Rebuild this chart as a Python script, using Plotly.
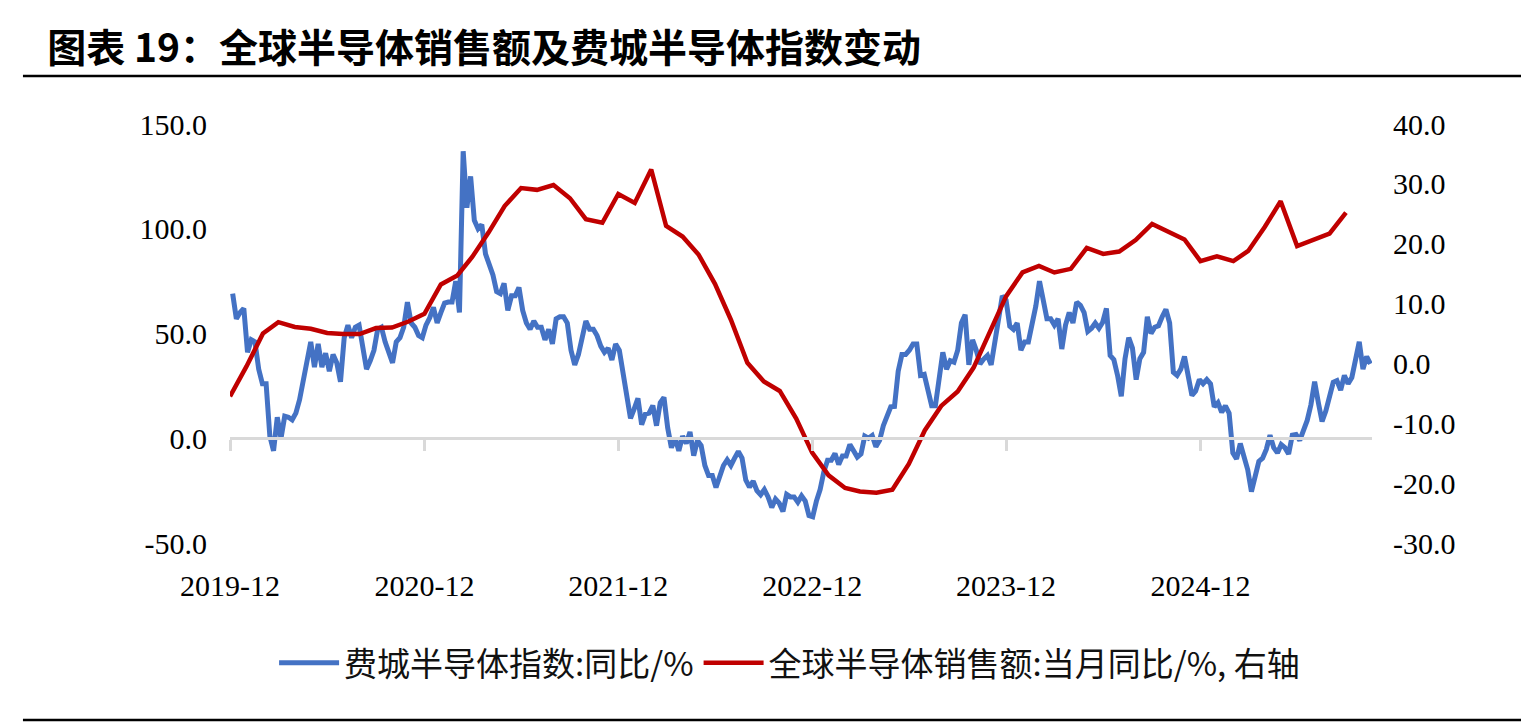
import pandas as pd
import plotly.graph_objects as go

# ---- data ----
sox_start = "2019-12-06"  # weekly observations
sox_yoy = [
    69, 57, 60, 62, 41, 47, 46, 33, 26, 26,
    1, -6, 10, 0, 10.5, 10, 8.8, 12, 18.4, 27,
    37, 46, 34, 45, 34, 40.6, 32, 40, 36, 27,
    48, 54, 48, 53, 54, 45, 33, 37, 42, 52,
    53, 46, 40.6, 36, 46, 48, 53, 65, 55, 53,
    49, 48, 54, 57.5, 62.5, 55, 60, 64.5, 65, 65,
    75, 60, 137, 110, 125, 104, 100, 102, 88, 83,
    78, 70, 69, 74, 61, 68, 68, 72, 61, 55,
    52, 56, 53, 53, 47, 52, 45, 57, 58, 58,
    55, 42, 35, 40, 47, 56, 52, 52, 49, 44,
    41, 43, 37.4, 45, 42, 30, 22, 9.5, 14, 19,
    6.5, 11.5, 12, 15.6, 6, 17, 19.5, 5, -4.5, 0,
    -6, 1, -2.5, 3, -8.3, -1.1, -3.5, -13, -17.8, -17.8,
    -23.5, -18.5, -13, -10.3, -13, -9.5, -6.3, -9.5, -19.9, -23.3,
    -20.5, -25, -27, -24.5, -28, -33, -29, -31, -35, -26.8,
    -28, -28, -30.5, -27.5, -30, -36.9, -37.5, -30, -24.5, -16,
    -10.5, -10.5, -7.3, -12.5, -8.5, -8.5, -3, -6, -9, -7.5,
    1, 0, 1.3, -4, -1, 6, 10.5, 15, 15.2, 32,
    40, 40, 42, 45, 45, 30, 30.5, 24, 15.5, 15.5,
    28.3, 41, 33, 37, 36.3, 42, 55, 59, 35, 47,
    42, 35.5, 37.8, 39.5, 35, 45, 57.6, 68, 66, 53.5,
    52, 55, 42, 46, 46, 53.8, 63, 75, 66, 57,
    57, 54, 57, 42.6, 54, 60, 55, 65, 63.5, 60,
    51, 52.5, 55, 52.5, 55.4, 62, 39.5, 37.5, 30, 20,
    37.9, 48, 43, 28, 38, 41, 58, 50, 53, 53.7,
    58, 61.5, 55, 31.5, 30, 33, 39, 29, 20.4, 22.5,
    28, 26, 28, 26, 15, 17, 12.4, 15.5, 12, -7,
    -9.9, -2.5, -9, -15, -25.5, -17, -11, -9.5, -5.3, 1.5,
    -4.5, -7, -3, -4.5, -7.5, 1.5, 1.8, -1, 4.5, 8.5,
    16, 27, 17, 8, 13, 21, 26.7, 27.5, 23, 30,
    26, 29, 36.3, 46, 33, 39, 35.5,
]

sales_start = "2019-12-01"  # monthly observations
sales_yoy = [
    -5.5,
    -0.5, 5.0, 6.9, 6.1, 5.8, 5.1, 4.9, 4.9, 5.9, 6.0, 7.0, 8.3,
    13.2, 14.7, 17.8, 21.9, 26.3, 29.3, 29.0, 29.8, 27.6, 24.1, 23.5, 28.3,
    26.8, 32.4, 23.0, 21.2, 18.2, 13.3, 7.3, 0.1, -3.0, -4.6, -9.2, -14.9,
    -18.7, -20.8, -21.4, -21.6, -21.1, -16.8, -11.2, -7.1, -4.7, -0.7, 5.2, 11.2,
    15.2, 16.3, 15.2, 15.8, 19.3, 18.3, 18.7, 20.6, 23.3, 22.1, 20.7, 17.1,
    17.9, 17.1, 18.8, 22.8, 27.1, 19.6, 20.7, 21.7, 25.2,
]

x_tick_vals = ["2019-12-01", "2020-12-01", "2021-12-01", "2022-12-01", "2023-12-01", "2024-12-01"]
x_tick_text = ["2019-12", "2020-12", "2021-12", "2022-12", "2023-12", "2024-12"]
left_tick_vals = [-50, 0, 50, 100, 150]
left_tick_text = ["-50.0", "0.0", "50.0", "100.0", "150.0"]
right_tick_vals = [-30, -20, -10, 0, 10, 20, 30, 40]
right_tick_text = ["-30.0", "-20.0", "-10.0", "0.0", "10.0", "20.0", "30.0", "40.0"]

name_sox = "费城半导体指数:同比/%"
name_sales = "全球半导体销售额:当月同比/%, 右轴"
title_text = "图表 19：全球半导体销售额及费城半导体指数变动"

sox_dates = pd.date_range(sox_start, periods=len(sox_yoy), freq="7D")
sales_dates = pd.date_range(sales_start, periods=len(sales_yoy), freq="MS")

BLUE = "#4472C4"
RED = "#C00000"
GREY = "#D9D9D9"
SERIF = "Liberation Serif, Times New Roman, serif"
CJK = "Noto Sans CJK SC, sans-serif"

fig = go.Figure()
fig.add_trace(go.Scatter(x=sox_dates, y=sox_yoy, name=name_sox, mode="lines",
                         line=dict(color=BLUE, width=5), xaxis="x", yaxis="y"))
fig.add_trace(go.Scatter(x=sales_dates, y=sales_yoy, name=name_sales, mode="lines",
                         line=dict(color=RED, width=4.5), xaxis="x", yaxis="y2"))

x_range = ["2019-12-01", "2025-10-20"]

fig.update_layout(
    width=1521, height=723,
    margin=dict(l=230, r=149, t=124, b=180),
    paper_bgcolor="white", plot_bgcolor="white",
    showlegend=True,
    legend=dict(orientation="h", x=0.49, xanchor="center", y=-0.286, yanchor="middle",
                font=dict(family=CJK, size=33, color="#111111"),
                itemwidth=60, tracegroupgap=0, bgcolor="rgba(0,0,0,0)"),
    title=dict(text="<b>" + title_text + "</b>", xref="container", yref="container",
               x=0.031, xanchor="left", y=1 - 48 / 723, yanchor="middle",
               font=dict(family=CJK, size=39, color="black")),
    xaxis=dict(range=x_range, type="date", tickvals=x_tick_vals, ticktext=x_tick_text,
               showline=False, showgrid=False, zeroline=False, ticks="",
               tickfont=dict(family=SERIF, size=30, color="black"),
               ticklabelstandoff=22),
    xaxis2=dict(range=x_range, type="date", overlaying="x", anchor="free", position=0.25,
                tickvals=x_tick_vals, showticklabels=False, showgrid=False, zeroline=False,
                showline=True, linecolor=GREY, linewidth=2.5,
                ticks="outside", ticklen=11, tickwidth=2.5, tickcolor=GREY),
    yaxis=dict(range=[-50, 150], tickvals=left_tick_vals, ticktext=left_tick_text,
               showgrid=False, zeroline=False, showline=False, ticks="",
               tickfont=dict(family=SERIF, size=30, color="black"),
               ticklabelstandoff=22),
    yaxis2=dict(range=[-30, 40], tickvals=right_tick_vals, ticktext=right_tick_text,
                overlaying="y", side="right", anchor="x",
                showgrid=False, zeroline=False, showline=False, ticks="",
                tickfont=dict(family=SERIF, size=30, color="black"),
                ticklabelstandoff=20),
    shapes=[
        dict(type="line", xref="paper", yref="paper", x0=-0.1813, x1=1.131,
             y0=1.1146, y1=1.1146, line=dict(color="black", width=2.5)),
        dict(type="line", xref="paper", yref="paper", x0=-0.1813, x1=1.131,
             y0=-0.4225, y1=-0.4225, line=dict(color="black", width=2.5)),
    ],
)

# invisible trace so the overlaid axis line is rendered
fig.add_trace(go.Scatter(x=[x_range[0]], y=[0], xaxis="x2", yaxis="y", mode="markers",
                         marker=dict(opacity=0), showlegend=False, hoverinfo="skip"))

fig.write_html("out.html")
